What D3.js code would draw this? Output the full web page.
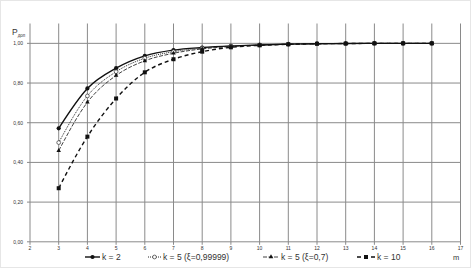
<!DOCTYPE html>
<html><head><meta charset="utf-8">
<script src="https://cdn.jsdelivr.net/npm/d3@7"></script>
<style>
html,body{margin:0;padding:0;background:#fff;}
svg{display:block;}
text{font-family:"Liberation Sans","Open Sans",Arial,sans-serif;fill:#333;}
</style></head>
<body>
<svg id="chart" width="471" height="268"></svg>
<script>
const xValues = [3,4,5,6,7,8,9,10,11,12,13,14,15,16];
const k2 = [0.572,0.773,0.875,0.937,0.966,0.979,0.987,0.992,0.996,0.998,0.999,1.0,1.0,1.0];
const k5a = [0.50,0.735,0.857,0.925,0.958,0.976,0.986,0.992,0.996,0.998,0.999,1.0,1.0,1.0];
const k5b = [0.459,0.703,0.838,0.912,0.95,0.972,0.984,0.991,0.995,0.998,0.999,1.0,1.0,1.0];
const k10 = [0.27,0.53,0.722,0.854,0.92,0.958,0.98,0.99,0.995,0.998,0.999,1.0,1.0,1.0];
const xTicks = [2,3,4,5,6,7,8,9,10,11,12,13,14,15,16,17];
const yTicks = [0,0.2,0.4,0.6,0.8,1.0];
const seriesNames = ["k = 2","k = 5 (ξ=0,99999)","k = 5 (ξ=0,7)","k = 10"];

const svg = d3.select("#chart");
svg.append("rect").attr("x",0.5).attr("y",0.5).attr("width",470).attr("height",267)
  .attr("fill","#fff").attr("stroke","#e6e6e6");

const x = d3.scaleLinear().domain([2,17]).range([30,460.5]);
const y = d3.scaleLinear().domain([0,1.1]).range([241.8,23.5]);

// grid
const g = svg.append("g");
g.selectAll("line.v").data(xTicks).join("line")
  .attr("x1",d=>x(d)).attr("x2",d=>x(d)).attr("y1",y(1.1)).attr("y2",y(0)+3)
  .attr("stroke","#8a8a8a").attr("stroke-width",1);
g.selectAll("line.h").data(yTicks).join("line")
  .attr("x1",x(2)-3).attr("x2",x(17)).attr("y1",d=>y(d)).attr("y2",d=>y(d))
  .attr("stroke","#8a8a8a").attr("stroke-width",1);

// tick labels
const fmt = d3.format(".2f");
svg.selectAll("text.yt").data(yTicks).join("text")
  .attr("x",x(2)-7).attr("y",d=>y(d)+1.8).attr("text-anchor","end")
  .attr("font-size",5).text(d=>fmt(d).replace(".",","));
svg.selectAll("text.xt").data(xTicks).join("text")
  .attr("x",d=>x(d)).attr("y",250).attr("text-anchor","middle")
  .attr("font-size",5).text(d=>d);

// axis labels
const yl = svg.append("text").attr("x",12).attr("y",35).attr("font-size",8.5);
yl.append("tspan").text("P");
yl.append("tspan").attr("font-size",4.5).attr("dy",2).text("доп");
svg.append("text").attr("x",453).attr("y",260).attr("font-size",7.5).text("m");

const styles = [
  {data:k2, dash:null, w:1.4, marker:"circleFill"},
  {data:k5a, dash:"1,1", w:0.9, marker:"circleOpen"},
  {data:k5b, dash:"4,1.5", w:0.8, marker:"triangle"},
  {data:k10, dash:"4,3", w:1.4, marker:"square"}
];

const line = d3.line().x(d=>x(d[0])).y(d=>y(d[1])).curve(d3.curveMonotoneX);

function drawMarker(sel, type, cx, cy){
  if(type==="circleFill") sel.append("circle").attr("cx",cx).attr("cy",cy).attr("r",2.1).attr("fill","#111");
  else if(type==="circleOpen") sel.append("circle").attr("cx",cx).attr("cy",cy).attr("r",1.9).attr("fill","#fff").attr("stroke","#333").attr("stroke-width",0.7);
  else if(type==="triangle") sel.append("path").attr("d",d3.symbol(d3.symbolTriangle,9)()).attr("transform",`translate(${cx},${cy})`).attr("fill","#111");
  else sel.append("rect").attr("x",cx-2).attr("y",cy-2).attr("width",4).attr("height",4).attr("fill","#111");
}

styles.forEach(s=>{
  const pts = xValues.map((v,i)=>[v,s.data[i]]);
  svg.append("path").attr("d",line(pts)).attr("fill","none").attr("stroke","#111")
    .attr("stroke-width",s.w).attr("stroke-dasharray",s.dash);
  const mg = svg.append("g");
  pts.forEach(p=>drawMarker(mg,s.marker,x(p[0]),y(p[1])));
});

// legend
const legX = [85,148,263,357];
const legTextX = [102,163,281,377];
const ly = 257;
styles.forEach((s,i)=>{
  svg.append("line").attr("x1",legX[i]).attr("x2",legTextX[i]-2).attr("y1",ly).attr("y2",ly)
    .attr("stroke","#111").attr("stroke-width",s.w).attr("stroke-dasharray",s.dash);
  const lg = svg.append("g");
  drawMarker(lg,s.marker,(legX[i]+legTextX[i]-2)/2,ly);
  svg.append("text").attr("x",legTextX[i]).attr("y",ly+3).attr("font-size",8.5).text(seriesNames[i]);
});
</script>
</body></html>
